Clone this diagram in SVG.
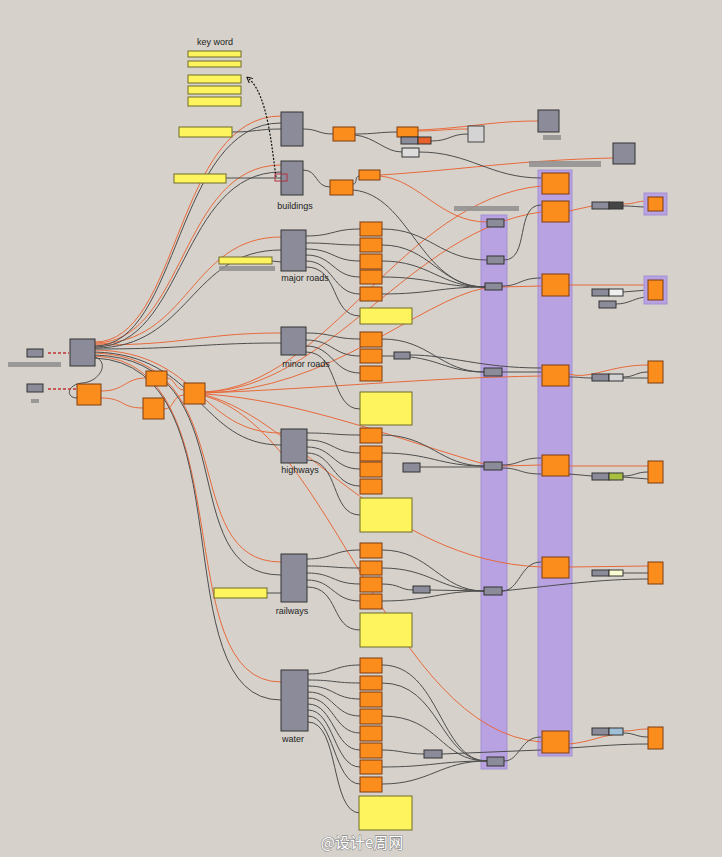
<svg xmlns="http://www.w3.org/2000/svg" width="722" height="857" viewBox="0 0 722 857">
<style>
.g{fill:#8c8b9a;stroke:#333;stroke-width:1}
.o{fill:#fb8d1d;stroke:#7d3a12;stroke-width:1}
.y{fill:#fef45e;stroke:#6f6b2a;stroke-width:1}
.p{fill:#b8a2e2;stroke:#a48fd6;stroke-width:1}
.bl{fill:#8f8f8f;opacity:0.85}
.w{fill:none;stroke:#4d4d4d;stroke-width:1}
.r{fill:none;stroke:#e8693c;stroke-width:1}
.t{font-family:"Liberation Sans",Arial,sans-serif;font-size:9px;fill:#222;text-anchor:middle}
</style>
<defs>
<marker id="ah" markerWidth="6" markerHeight="6" refX="3" refY="3" orient="auto" markerUnits="userSpaceOnUse"><path d="M0,0 L6,3 L0,6" fill="none" stroke="#111" stroke-width="1"/></marker>
</defs>
<rect width="722" height="857" fill="#d6d2cb"/>
<g id="columns">
<rect class="p" x="481" y="215" width="26" height="554"/>
<rect class="p" x="538" y="170" width="34" height="586"/>
</g>
<g id="connectors">
<path class="r" d="M95,342 C180,342 175,116 281,116"/>
<path class="r" d="M95,343 C185,343 180,165 281,165"/>
<path class="r" d="M95,344 C190,344 190,237 281,237"/>
<path class="r" d="M95,345 C190,345 200,333 281,333"/>
<path class="r" d="M95,350 C200,352 200,433 281,433"/>
<path class="r" d="M95,353 C245,358 175,562 281,562"/>
<path class="r" d="M95,356 C245,362 165,682 281,682"/>
<path class="r" d="M101,391 C125,391 125,378 146,378"/>
<path class="r" d="M101,398 C125,398 120,408 143,408"/>
<path class="r" d="M167,378 C175,378 175,390 184,390"/>
<path class="r" d="M164,409 C175,409 172,395 184,395"/>
<path class="r" d="M205,392 C330,385 400,200 541,186"/>
<path class="r" d="M205,392 C330,388 410,230 541,212"/>
<path class="r" d="M205,393 C330,390 420,300 485,288"/>
<path class="r" d="M502,287 L541,286"/>
<path class="r" d="M205,393 C330,388 420,378 541,376"/>
<path class="r" d="M205,394 C300,400 400,440 484,464"/>
<path class="r" d="M502,466 L541,465"/>
<path class="r" d="M205,395 C300,420 380,560 541,567"/>
<path class="r" d="M205,396 C330,430 390,730 541,742"/>
<path class="r" d="M418,131 C440,131 445,129 468,129"/>
<path class="r" d="M418,130 C470,128 490,121 538,121"/>
<path class="r" d="M380,175 C460,170 520,160 613,158"/>
<path class="r" d="M380,176 C420,180 440,222 487,222"/>
<path class="r" d="M569,211 L592,206"/>
<path class="r" d="M623,204 C635,204 636,201 648,201"/>
<path class="r" d="M569,285 L648,285"/>
<path class="r" d="M569,374 C590,380 610,365 648,365"/>
<path class="r" d="M569,466 L648,466"/>
<path class="r" d="M569,567 L648,566"/>
<path class="r" d="M569,744 C590,742 600,736 613,735"/>
<path class="r" d="M623,731 C635,731 636,729 648,729"/>
<path class="w" d="M95,346 C180,346 175,123 281,123"/>
<path class="w" d="M95,347 C185,347 180,172 281,172"/>
<path class="w" d="M95,348 C190,348 190,250 281,250"/>
<path class="w" d="M95,349 C190,349 200,343 281,343"/>
<path class="w" d="M95,352 C200,355 200,445 281,445"/>
<path class="w" d="M95,355 C250,360 170,575 281,575"/>
<path class="w" d="M95,358 C250,365 160,700 281,700"/>
<path class="w" d="M95,357 C110,362 100,382 82,383 C66,385 66,398 77,398"/>
<path class="w" d="M303,129 C318,129 318,134 333,134"/>
<path class="w" d="M355,134 C375,134 380,132 397,132"/>
<path class="w" d="M355,135 C375,137 385,152 402,152"/>
<path class="w" d="M419,152 C470,152 490,178 541,178"/>
<path class="w" d="M431,141 C450,141 450,134 468,134"/>
<path class="w" d="M303,170 C318,170 315,187 330,187"/>
<path class="w" d="M353,184 C358,184 354,177 359,176"/>
<path class="w" d="M232,132 C255,132 258,129 281,129"/>
<path class="w" d="M226,178 L281,178"/>
<path class="w" d="M272,261 L281,262"/>
<path class="w" d="M267,593 L281,593"/>
<path class="w" d="M306,236 C333,236 333,229 360,229"/>
<path class="w" d="M306,243 C333,243 333,245 360,245"/>
<path class="w" d="M306,249 C333,249 333,261 360,261"/>
<path class="w" d="M306,255 C333,255 333,277 360,277"/>
<path class="w" d="M306,261 C333,261 333,294 360,294"/>
<path class="w" d="M306,267 C340,267 330,316 360,316"/>
<path class="w" d="M306,333 C333,333 333,339 360,339"/>
<path class="w" d="M306,340 C333,340 333,356 360,356"/>
<path class="w" d="M306,346 C333,346 333,373 360,373"/>
<path class="w" d="M306,352 C340,352 330,409 360,409"/>
<path class="w" d="M307,433 C333,433 333,435 360,435"/>
<path class="w" d="M307,440 C333,440 333,453 360,453"/>
<path class="w" d="M307,447 C333,447 333,469 360,469"/>
<path class="w" d="M307,453 C333,453 333,486 360,486"/>
<path class="w" d="M307,460 C340,460 330,515 360,515"/>
<path class="w" d="M307,559 C333,559 333,550 360,550"/>
<path class="w" d="M307,566 C333,566 333,568 360,568"/>
<path class="w" d="M307,573 C333,573 333,584 360,584"/>
<path class="w" d="M307,580 C333,580 333,601 360,601"/>
<path class="w" d="M307,587 C340,587 330,630 360,630"/>
<path class="w" d="M308,674 C334,674 334,665 360,665"/>
<path class="w" d="M308,680 C334,680 334,683 360,683"/>
<path class="w" d="M308,686 C334,686 334,699 360,699"/>
<path class="w" d="M308,692 C334,692 334,716 360,716"/>
<path class="w" d="M308,698 C334,698 334,733 360,733"/>
<path class="w" d="M308,704 C334,704 334,750 360,750"/>
<path class="w" d="M308,710 C334,710 334,767 360,767"/>
<path class="w" d="M308,716 C334,716 334,784 360,784"/>
<path class="w" d="M308,722 C340,722 330,813 360,813"/>
<path class="w" d="M382,229 C430,229 440,260 487,260"/>
<path class="w" d="M382,245 C430,245 440,287 485,287"/>
<path class="w" d="M382,261 C430,261 440,287 485,287"/>
<path class="w" d="M382,277 C430,277 440,287 485,287"/>
<path class="w" d="M382,294 C430,294 440,287 485,287"/>
<path class="w" d="M353,190 C410,195 420,287 485,287"/>
<path class="w" d="M504,260 C530,260 515,205 541,205"/>
<path class="w" d="M502,286 C520,286 520,278 541,278"/>
<path class="w" d="M382,339 C430,339 440,372 484,372"/>
<path class="w" d="M382,356 L394,356"/>
<path class="w" d="M410,355 C450,355 480,368 541,368"/>
<path class="w" d="M410,357 C440,360 450,372 484,372"/>
<path class="w" d="M502,372 L541,372"/>
<path class="w" d="M382,435 C430,435 440,466 484,466"/>
<path class="w" d="M382,453 C430,453 440,466 484,466"/>
<path class="w" d="M420,467 L484,467"/>
<path class="w" d="M502,465 C520,465 520,458 541,458"/>
<path class="w" d="M502,468 C520,468 520,474 541,474"/>
<path class="w" d="M382,550 C430,550 440,591 484,591"/>
<path class="w" d="M382,568 C430,568 440,591 484,591"/>
<path class="w" d="M382,584 C400,584 400,590 413,590"/>
<path class="w" d="M382,601 C430,601 440,591 484,591"/>
<path class="w" d="M430,590 L484,591"/>
<path class="w" d="M502,591 C520,591 520,562 541,562"/>
<path class="w" d="M502,591 C560,585 600,579 648,579"/>
<path class="w" d="M382,665 C440,665 440,761 487,761"/>
<path class="w" d="M382,683 C440,683 440,761 487,761"/>
<path class="w" d="M382,716 C440,716 440,761 487,761"/>
<path class="w" d="M382,750 C400,750 405,754 424,754"/>
<path class="w" d="M382,767 C430,767 440,761 487,761"/>
<path class="w" d="M382,784 C430,784 440,761 487,761"/>
<path class="w" d="M442,754 L541,750"/>
<path class="w" d="M504,761 C520,761 520,737 541,737"/>
<path class="w" d="M623,206 C635,206 636,207 648,207"/>
<path class="w" d="M623,292 L648,290"/>
<path class="w" d="M616,304 C630,304 635,297 648,297"/>
<path class="w" d="M569,377 C580,377 582,378 592,378"/>
<path class="w" d="M623,377 C635,377 636,372 648,372"/>
<path class="w" d="M623,378 L648,378"/>
<path class="w" d="M569,474 L592,476"/>
<path class="w" d="M623,476 C635,476 636,472 648,472"/>
<path class="w" d="M623,477 L648,479"/>
<path class="w" d="M623,573 L648,573"/>
<path class="w" d="M569,748 C600,746 620,744 648,744"/>
<path class="w" d="M623,733 C635,733 636,737 648,737"/>
<path d="M48,353 L69,353" stroke="#c23434" stroke-width="1.6" stroke-dasharray="3,2" fill="none"/>
<path d="M48,389 L77,389" stroke="#c23434" stroke-width="1.6" stroke-dasharray="3,2" fill="none"/>
<path d="M276,177 C272,150 268,95 249,79" stroke="#111" stroke-width="1.2" stroke-dasharray="2,1.5" fill="none" marker-end="url(#ah)"/>
</g>
<g id="keyword">
<text class="t" x="215" y="45">key word</text>
<rect class="y" x="188" y="51" width="53" height="6"/>
<rect class="y" x="188" y="61" width="53" height="6"/>
<rect class="y" x="188" y="75" width="53" height="8"/>
<rect class="y" x="188" y="86" width="53" height="8"/>
<rect class="y" x="188" y="97" width="53" height="9"/>
</g>
<g id="inputs">
<rect class="g" x="27" y="349" width="16" height="8"/>
<rect class="bl" x="8" y="362" width="53" height="5"/>
<rect class="g" x="27" y="384" width="16" height="8"/>
<rect class="bl" x="31" y="399" width="8" height="4"/>
<rect class="g" x="70" y="339" width="25" height="27"/>
<rect class="o" x="77" y="384" width="24" height="21"/>
<rect class="o" x="146" y="371" width="21" height="15"/>
<rect class="o" x="143" y="398" width="21" height="21"/>
<rect class="o" x="184" y="383" width="21" height="21"/>
</g>
<g id="top">
<rect class="y" x="179" y="127" width="53" height="10"/>
<rect class="g" x="281" y="112" width="22" height="34"/>
<rect class="y" x="174" y="174" width="52" height="9"/>
<rect class="g" x="281" y="161" width="22" height="34"/>
<rect x="275" y="174" width="12" height="7" fill="none" stroke="#b03040" stroke-width="1"/>
<text class="t" x="295" y="209">buildings</text>
<rect class="o" x="333" y="127" width="22" height="14"/>
<rect class="o" x="330" y="180" width="23" height="15"/>
<rect class="o" x="397" y="127" width="21" height="10"/>
<rect x="401" y="137" width="17" height="7" fill="#8c8b9a" stroke="#333"/>
<rect x="418" y="137" width="13" height="7" fill="#e8602a" stroke="#333"/>
<rect x="402" y="148" width="17" height="9" fill="#dcdcdc" stroke="#333"/>
<rect x="468" y="126" width="16" height="16" fill="#d4d4d4" stroke="#444"/>
<rect class="g" x="538" y="110" width="21" height="22"/>
<rect class="bl" x="543" y="135" width="18" height="5"/>
<rect class="g" x="613" y="143" width="22" height="21"/>
<rect class="bl" x="529" y="161" width="72" height="6"/>
<rect class="o" x="359" y="170" width="21" height="10"/>
<rect class="bl" x="454" y="206" width="65" height="5"/>
</g>
<g id="major">
<rect class="y" x="219" y="257" width="53" height="7"/>
<rect class="bl" x="219" y="266" width="56" height="5"/>
<rect class="g" x="281" y="230" width="25" height="41"/>
<text class="t" x="305" y="281">major roads</text>
<rect class="o" x="360" y="222" width="22" height="14"/>
<rect class="o" x="360" y="238" width="22" height="14"/>
<rect class="o" x="360" y="254" width="22" height="15"/>
<rect class="o" x="360" y="270" width="22" height="14"/>
<rect class="o" x="360" y="287" width="22" height="14"/>
<rect class="y" x="360" y="308" width="52" height="16"/>
</g>
<g id="minor">
<rect class="g" x="281" y="327" width="25" height="28"/>
<text class="t" x="306" y="367">minor roads</text>
<rect class="o" x="360" y="332" width="22" height="15"/>
<rect class="o" x="360" y="349" width="22" height="14"/>
<rect class="o" x="360" y="366" width="22" height="15"/>
<rect class="g" x="394" y="352" width="16" height="7"/>
<rect class="y" x="360" y="392" width="52" height="33"/>
</g>
<g id="highways">
<rect class="g" x="281" y="429" width="26" height="34"/>
<text class="t" x="300" y="473">highways</text>
<rect class="o" x="360" y="428" width="22" height="15"/>
<rect class="o" x="360" y="446" width="22" height="15"/>
<rect class="o" x="360" y="462" width="22" height="15"/>
<rect class="o" x="360" y="479" width="22" height="15"/>
<rect class="g" x="403" y="463" width="17" height="9"/>
<rect class="y" x="360" y="498" width="52" height="34"/>
</g>
<g id="railways">
<rect class="y" x="214" y="588" width="53" height="10"/>
<rect class="g" x="281" y="554" width="26" height="48"/>
<text class="t" x="292" y="614">railways</text>
<rect class="o" x="360" y="543" width="22" height="15"/>
<rect class="o" x="360" y="561" width="22" height="14"/>
<rect class="o" x="360" y="577" width="22" height="15"/>
<rect class="o" x="360" y="594" width="22" height="15"/>
<rect class="g" x="413" y="586" width="17" height="7"/>
<rect class="y" x="360" y="613" width="52" height="34"/>
</g>
<g id="water">
<rect class="g" x="281" y="670" width="27" height="61"/>
<text class="t" x="293" y="742">water</text>
<rect class="o" x="360" y="658" width="22" height="15"/>
<rect class="o" x="360" y="676" width="22" height="14"/>
<rect class="o" x="360" y="692" width="22" height="15"/>
<rect class="o" x="360" y="709" width="22" height="15"/>
<rect class="o" x="360" y="726" width="22" height="15"/>
<rect class="o" x="360" y="743" width="22" height="15"/>
<rect class="o" x="360" y="760" width="22" height="14"/>
<rect class="o" x="360" y="777" width="22" height="15"/>
<rect class="g" x="424" y="750" width="18" height="8"/>
<rect class="y" x="359" y="796" width="53" height="34"/>
</g>
<g id="col1">
<rect class="g" x="487" y="219" width="17" height="8"/>
<rect class="g" x="487" y="256" width="17" height="8"/>
<rect class="g" x="485" y="283" width="17" height="7"/>
<rect class="g" x="484" y="368" width="18" height="8"/>
<rect class="g" x="484" y="462" width="18" height="8"/>
<rect class="g" x="484" y="587" width="18" height="8"/>
<rect class="g" x="487" y="757" width="17" height="9"/>
</g>
<g id="col2">
<rect class="o" x="542" y="173" width="27" height="21"/>
<rect class="o" x="542" y="201" width="27" height="21"/>
<rect class="o" x="542" y="274" width="27" height="22"/>
<rect class="o" x="542" y="365" width="27" height="21"/>
<rect class="o" x="542" y="455" width="27" height="21"/>
<rect class="o" x="542" y="557" width="27" height="21"/>
<rect class="o" x="542" y="731" width="27" height="22"/>
</g>
<g id="outputs">
<rect class="p" x="644" y="193" width="23" height="22"/>
<rect class="o" x="648" y="197" width="15" height="14"/>
<rect x="592" y="202" width="17" height="7" fill="#8c8b9a" stroke="#333"/>
<rect x="609" y="202" width="14" height="7" fill="#454545" stroke="#333"/>
<rect class="p" x="644" y="276" width="23" height="28"/>
<rect class="o" x="648" y="280" width="15" height="20"/>
<rect x="592" y="289" width="17" height="7" fill="#8c8b9a" stroke="#333"/>
<rect x="609" y="289" width="14" height="7" fill="#efefef" stroke="#333"/>
<rect class="g" x="599" y="301" width="17" height="7"/>
<rect class="o" x="648" y="361" width="15" height="22"/>
<rect x="592" y="374" width="17" height="7" fill="#8c8b9a" stroke="#333"/>
<rect x="609" y="374" width="14" height="7" fill="#d2d2d2" stroke="#333"/>
<rect class="o" x="648" y="461" width="15" height="22"/>
<rect x="592" y="473" width="17" height="7" fill="#8c8b9a" stroke="#333"/>
<rect x="609" y="473" width="14" height="7" fill="#a8c040" stroke="#333"/>
<rect class="o" x="648" y="562" width="15" height="22"/>
<rect x="592" y="570" width="17" height="6" fill="#8c8b9a" stroke="#333"/>
<rect x="609" y="570" width="14" height="6" fill="#fafad0" stroke="#333"/>
<rect class="o" x="648" y="727" width="15" height="22"/>
<rect x="592" y="728" width="17" height="7" fill="#8c8b9a" stroke="#333"/>
<rect x="609" y="728" width="14" height="7" fill="#a0c0d8" stroke="#333"/>
</g>
<text x="362" y="848" font-family="'Noto Sans CJK SC','Liberation Sans',sans-serif" font-size="15" fill="#ffffff" stroke="#8a8a8a" stroke-width="1.2" paint-order="stroke" text-anchor="middle">@设计e周网</text>
</svg>
